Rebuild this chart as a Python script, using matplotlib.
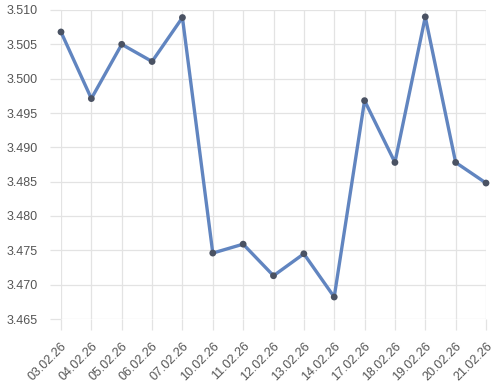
import matplotlib
matplotlib.use("Agg")
import matplotlib.pyplot as plt

dates = ["03.02.26", "04.02.26", "05.02.26", "06.02.26", "07.02.26", "10.02.26",
         "11.02.26", "12.02.26", "13.02.26", "14.02.26", "17.02.26", "18.02.26",
         "19.02.26", "20.02.26", "21.02.26"]
values = [3.5068, 3.4971, 3.5050, 3.5025, 3.5089, 3.4746, 3.4759, 3.4713,
          3.4745, 3.4682, 3.4968, 3.4878, 3.5090, 3.4878, 3.4848]
yticks = [3.465, 3.470, 3.475, 3.480, 3.485, 3.490, 3.495, 3.500, 3.505, 3.510]

plt.rcParams['font.family'] = ['Liberation Sans', 'DejaVu Sans']

fig = plt.figure(figsize=(4.99, 3.91), dpi=100)
ax = fig.add_axes([61/499, 1-319/391, (486-61)/499, 309/391])

x = list(range(len(dates)))
ax.plot(x, values, color='#6185c0', lw=2.4, zorder=3, solid_joinstyle='round',
        clip_on=False)
ax.scatter(x, values, s=24, color='#4a5263', zorder=4, edgecolors='none',
           clip_on=False)

ax.set_xlim(0, len(dates)-1)
ax.set_ylim(3.465, 3.510)
ax.set_yticks(yticks)
ax.set_yticklabels([f"{v:.3f}" for v in yticks])
ax.set_xticks(x)
ax.set_xticklabels(dates, rotation=45, ha='right', rotation_mode='anchor')

ax.grid(True, color='#e3e3e3', lw=0.9)
ax.set_axisbelow(True)
for s in ax.spines.values():
    s.set_visible(False)
ax.tick_params(axis='y', length=8, width=0.9, color='#e3e3e3', pad=9,
               labelsize=9, labelcolor='#555555')
ax.tick_params(axis='x', length=8, width=0.9, color='#e3e3e3', pad=7,
               labelsize=9, labelcolor='#555555')

fig.savefig("out.png", dpi=100)
